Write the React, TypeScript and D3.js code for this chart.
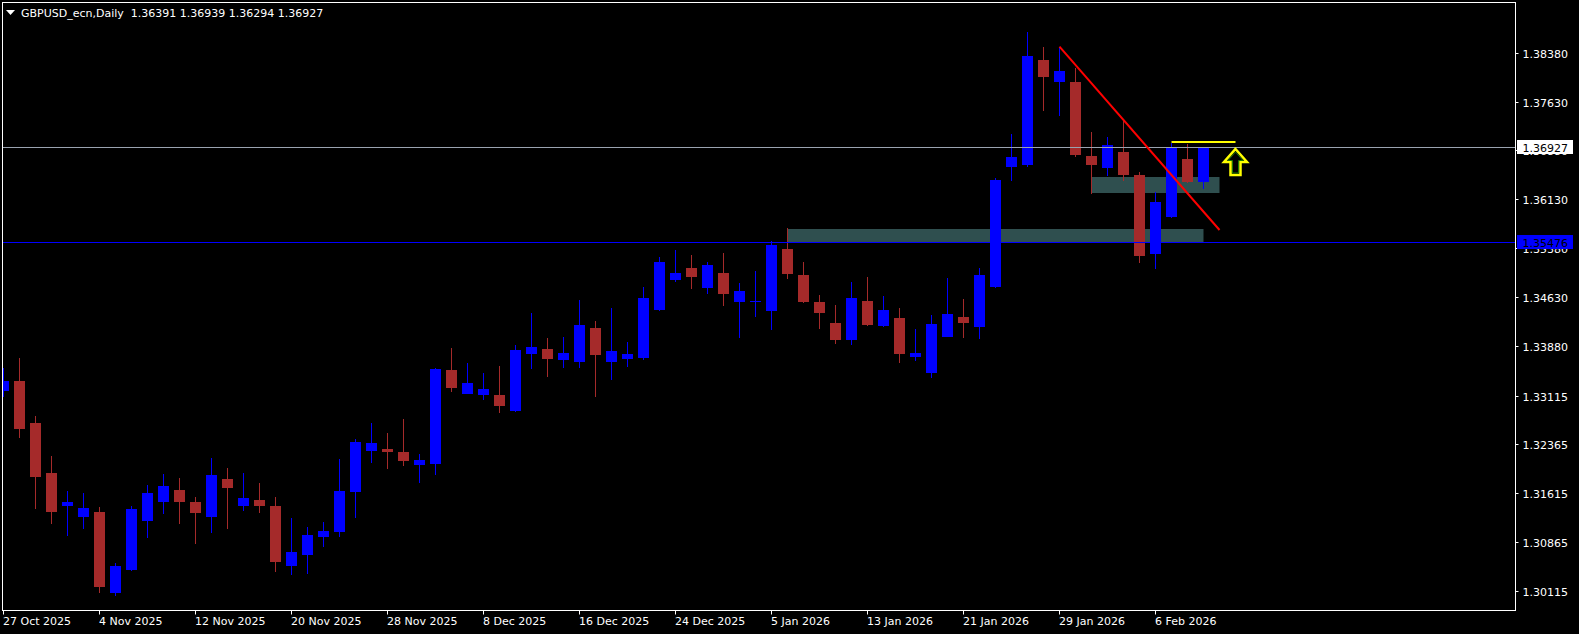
import React, { useEffect } from "react";
import * as d3 from "d3";

const dates = [
  "2025-10-27","2025-10-28","2025-10-29","2025-10-30","2025-10-31","2025-11-03","2025-11-04","2025-11-05","2025-11-06","2025-11-07",
  "2025-11-10","2025-11-11","2025-11-12","2025-11-13","2025-11-14","2025-11-17","2025-11-18","2025-11-19","2025-11-20","2025-11-21",
  "2025-11-24","2025-11-25","2025-11-26","2025-11-27","2025-11-28","2025-12-01","2025-12-02","2025-12-03","2025-12-04","2025-12-05",
  "2025-12-08","2025-12-09","2025-12-10","2025-12-11","2025-12-12","2025-12-15","2025-12-16","2025-12-17","2025-12-18","2025-12-19",
  "2025-12-22","2025-12-23","2025-12-24","2025-12-26","2025-12-29","2025-12-30","2025-12-31","2026-01-02","2026-01-05","2026-01-06",
  "2026-01-07","2026-01-08","2026-01-09","2026-01-12","2026-01-13","2026-01-14","2026-01-15","2026-01-16","2026-01-19","2026-01-20",
  "2026-01-21","2026-01-22","2026-01-23","2026-01-26","2026-01-27","2026-01-28","2026-01-29","2026-01-30","2026-02-02","2026-02-03",
  "2026-02-04","2026-02-05","2026-02-06","2026-02-09","2026-02-10","2026-02-11",
];

const opens = [
  1.33186,1.33339,1.32694,1.31927,1.31425,1.31256,1.31328,1.30084,1.30442,1.31190,
  1.31486,1.31670,1.31482,1.31256,1.31835,1.31425,1.31512,1.31420,1.30503,1.30672,
  1.30949,1.31025,1.31640,1.32269,1.32295,1.32249,1.32054,1.32070,1.33508,1.33144,
  1.33124,1.33124,1.32879,1.33758,1.33831,1.33666,1.33636,1.34153,1.33636,1.33682,
  1.33697,1.34434,1.34895,1.35074,1.34772,1.34998,1.34557,1.34565,1.34419,1.35366,
  1.34967,1.34552,1.34230,1.33973,1.34568,1.34188,1.34307,1.33712,1.33467,1.34019,
  1.34322,1.34173,1.34787,1.36630,1.36660,1.38268,1.37935,1.37930,1.36794,1.36614,
  1.36855,1.36507,1.35294,1.35862,1.36753,1.36391,
];
const highs = [
  1.33544,1.33692,1.32802,1.32188,1.31650,1.31620,1.31409,1.30545,1.31420,1.31747,
  1.31911,1.31850,1.31558,1.32157,1.32003,1.31927,1.31773,1.31558,1.31240,1.31098,
  1.31174,1.32142,1.32449,1.32694,1.32541,1.32756,1.32218,1.33539,1.33846,1.33616,
  1.33462,1.33570,1.33892,1.34383,1.33999,1.34015,1.34583,1.34261,1.34460,1.33938,
  1.34783,1.35243,1.35351,1.35274,1.35166,1.35305,1.34844,1.35028,1.35489,1.35688,
  1.35166,1.34660,1.34506,1.34859,1.34936,1.34644,1.34460,1.34138,1.34353,1.34921,
  1.34598,1.35074,1.36456,1.37132,1.38698,1.38468,1.38472,1.38145,1.37162,1.37086,
  1.37347,1.36553,1.36246,1.36998,1.36983,1.36939,
];
const lows = [
  1.33094,1.32469,1.31379,1.31148,1.30964,1.31072,1.30089,1.30043,1.30427,1.30933,
  1.31302,1.31148,1.30841,1.31001,1.31072,1.31348,1.31317,1.30411,1.30365,1.30381,
  1.30795,1.30949,1.31240,1.32085,1.31993,1.32039,1.31778,1.31901,1.33175,1.33140,
  1.33052,1.32853,1.32863,1.33524,1.33401,1.33544,1.33544,1.33098,1.33359,1.33559,
  1.33666,1.34414,1.34864,1.34757,1.34680,1.34496,1.34004,1.34327,1.34127,1.34910,
  1.34537,1.34142,1.33912,1.33897,1.34188,1.34173,1.33620,1.33651,1.33390,1.34015,
  1.34004,1.33989,1.34767,1.36415,1.36630,1.37490,1.37413,1.36783,1.36215,1.36492,
  1.36415,1.35156,1.35064,1.35847,1.36384,1.36294,
];
const closes = [
  1.33339,1.32607,1.31870,1.31333,1.31482,1.31389,1.30181,1.30499,1.31374,1.31620,
  1.31732,1.31486,1.31317,1.31896,1.31701,1.31543,1.31425,1.30565,1.30714,1.30975,
  1.31036,1.31650,1.32403,1.32387,1.32254,1.32116,1.32126,1.33524,1.33236,1.33309,
  1.33216,1.32960,1.33815,1.33861,1.33682,1.33769,1.34199,1.33743,1.33800,1.33754,
  1.34614,1.35166,1.34998,1.34941,1.35120,1.34680,1.34721,1.34570,1.35427,1.34987,
  1.34557,1.34388,1.33973,1.34614,1.34204,1.34429,1.33758,1.33769,1.34214,1.34368,
  1.34234,1.34967,1.36425,1.36779,1.38329,1.38012,1.38099,1.36814,1.36660,1.36963,
  1.36507,1.35263,1.36092,1.36937,1.36399,1.36927,
];

const priceTicks = [1.3838, 1.3763, 1.3688, 1.3613, 1.3538, 1.3463, 1.3388, 1.33115, 1.32365, 1.31615, 1.30865, 1.30115];
const headerSymbol = "GBPUSD_ecn,Daily";
const headerValues = ["1.36391", "1.36939", "1.36294", "1.36927"];

const bidPrice = 1.36927;
const levelPrice = 1.35476;

const zoneStartIdx = [49, 68];
const zoneEndIdx = [75, 76];
const zoneTop = [1.35673, 1.36472];
const zoneBottom = [1.35476, 1.3623];

const trendIdx = [66, 76];
const trendPrice = [1.38472, 1.35658];

const resistIdx = [73, 77];
const resistPrice = 1.37014;

const arrowIdx = 77;
const arrowPrice = 1.369;

const BULL = "#0000FF";
const BEAR = "#A52A2A";
const FONT = "'DejaVu Sans', Tahoma, sans-serif";

export default function App() {
  useEffect(() => {
    document.body.style.margin = "0";
    document.body.style.background = "#000";
  }, []);

  const W = 1579;
  const H = 634;
  const left = 2.5, top = 2.5, right = 1515.5, bottom = 610.5;

  const x = d3.scaleLinear().domain([0, 75]).range([3.5, 1203.5]);
  const y = d3.scaleLinear().domain([1.30115, 1.3838]).range([591, 52.7]);

  const parse = d3.timeParse("%Y-%m-%d");
  const fmt = d3.timeFormat("%-d %b %Y");
  const fmtP = (v: number) => v.toFixed(5);

  const bars = dates.map((d, i) => ({ i, d, o: opens[i], h: highs[i], l: lows[i], c: closes[i] }));
  const dateTicks = bars.filter((b) => b.i % 6 === 0);

  const ax = x(arrowIdx);
  const ay = Math.round(y(arrowPrice));
  const arrowPts = [
    [ax, ay], [ax + 11.5, ay + 13], [ax + 5, ay + 13], [ax + 5, ay + 26],
    [ax - 5, ay + 26], [ax - 5, ay + 13], [ax - 11.5, ay + 13],
  ];
  const arrowInner = [
    [ax, ay + 3], [ax + 7.5, ay + 11.5], [ax + 3, ay + 11.5], [ax + 3, ay + 24],
    [ax - 3, ay + 24], [ax - 3, ay + 11.5], [ax - 7.5, ay + 11.5],
  ];

  const bidY = Math.round(y(bidPrice));
  const levelY = Math.round(y(levelPrice));

  return (
    <svg width={W} height={H} style={{ position: "absolute", left: 0, top: 0, background: "#000" }}>
      <defs>
        <clipPath id="plot">
          <rect x={3} y={3} width={1512} height={607} />
        </clipPath>
      </defs>
      <rect x={0} y={0} width={W} height={H} fill="#000" />

      <g clipPath="url(#plot)">
        {zoneStartIdx.map((s, k) => {
          const y0 = Math.round(y(zoneTop[k]));
          const y1 = Math.round(y(zoneBottom[k]));
          return (
            <rect key={"z" + k} x={x(s)} y={y0} width={x(zoneEndIdx[k]) - x(s)} height={y1 - y0} fill="#2F4F4F" />
          );
        })}

        {bars.map((b) => {
          const cx = x(b.i);
          const col = b.c >= b.o ? BULL : BEAR;
          const yh = Math.round(y(b.h));
          const yl = Math.round(y(b.l));
          const yt = Math.round(y(Math.max(b.o, b.c)));
          const yb = Math.round(y(Math.min(b.o, b.c)));
          return (
            <g key={b.d}>
              <rect x={cx - 0.5} y={yh} width={1} height={Math.max(1, yl - yh)} fill={col} />
              <rect x={cx - 5.5} y={yt} width={11} height={Math.max(1, yb - yt)} fill={col} />
            </g>
          );
        })}

        <line x1={left} x2={right} y1={bidY + 0.5} y2={bidY + 0.5} stroke="#9aa3b0" strokeWidth={1} />
        <line x1={left} x2={right} y1={levelY + 0.5} y2={levelY + 0.5} stroke="#0000FF" strokeWidth={1} />

        <line x1={x(trendIdx[0])} y1={y(trendPrice[0])} x2={x(trendIdx[1])} y2={y(trendPrice[1])} stroke="#FF0000" strokeWidth={2} />
        <line x1={x(resistIdx[0])} x2={x(resistIdx[1])} y1={Math.round(y(resistPrice))} y2={Math.round(y(resistPrice))} stroke="#FFFF00" strokeWidth={2} />

        <polygon points={arrowPts.map((p) => p.join(",")).join(" ")} fill="#000" stroke="#FFFF00" strokeWidth={2.5} strokeLinejoin="miter" />
        <polygon points={arrowInner.map((p) => p.join(",")).join(" ")} fill="none" stroke="#1a7a00" strokeWidth={1} />
      </g>

      <rect x={left} y={top} width={right - left} height={bottom - top} fill="none" stroke="#FFFFFF" strokeWidth={1} />

      <path d="M6,10 L15,10 L10.5,15 Z" fill="#FFFFFF" />
      <text x={21} y={17} fill="#FFFFFF" fontFamily={FONT} fontSize={11} style={{ whiteSpace: "pre" }} xmlSpace="preserve">
        {headerSymbol + "  " + headerValues.join(" ")}
      </text>

      {priceTicks.map((p) => {
        const ty = Math.round(y(p));
        return (
          <g key={p}>
            <line x1={right} x2={right + 3} y1={ty + 0.5} y2={ty + 0.5} stroke="#FFFFFF" />
            <text x={1522.5} y={ty + 4.5} fill="#FFFFFF" fontFamily={FONT} fontSize={11}>{fmtP(p)}</text>
          </g>
        );
      })}

      <rect x={1517} y={bidY - 7} width={56} height={14} fill="#FFFFFF" />
      <text x={1522.5} y={bidY + 4.5} fill="#000000" fontFamily={FONT} fontSize={11}>{fmtP(bidPrice)}</text>
      <rect x={1517} y={levelY - 7} width={56} height={14} fill="#0000FF" />
      <text x={1522.5} y={levelY + 4.5} fill="#000000" fontFamily={FONT} fontSize={11}>{fmtP(levelPrice)}</text>

      {dateTicks.map((b) => {
        const tx = x(b.i);
        return (
          <g key={"t" + b.i}>
            <line x1={tx} x2={tx} y1={bottom} y2={bottom + 4} stroke="#FFFFFF" />
            <text x={tx - 0.5} y={625} fill="#FFFFFF" fontFamily={FONT} fontSize={11}>{fmt(parse(b.d) as Date)}</text>
          </g>
        );
      })}
    </svg>
  );
}
